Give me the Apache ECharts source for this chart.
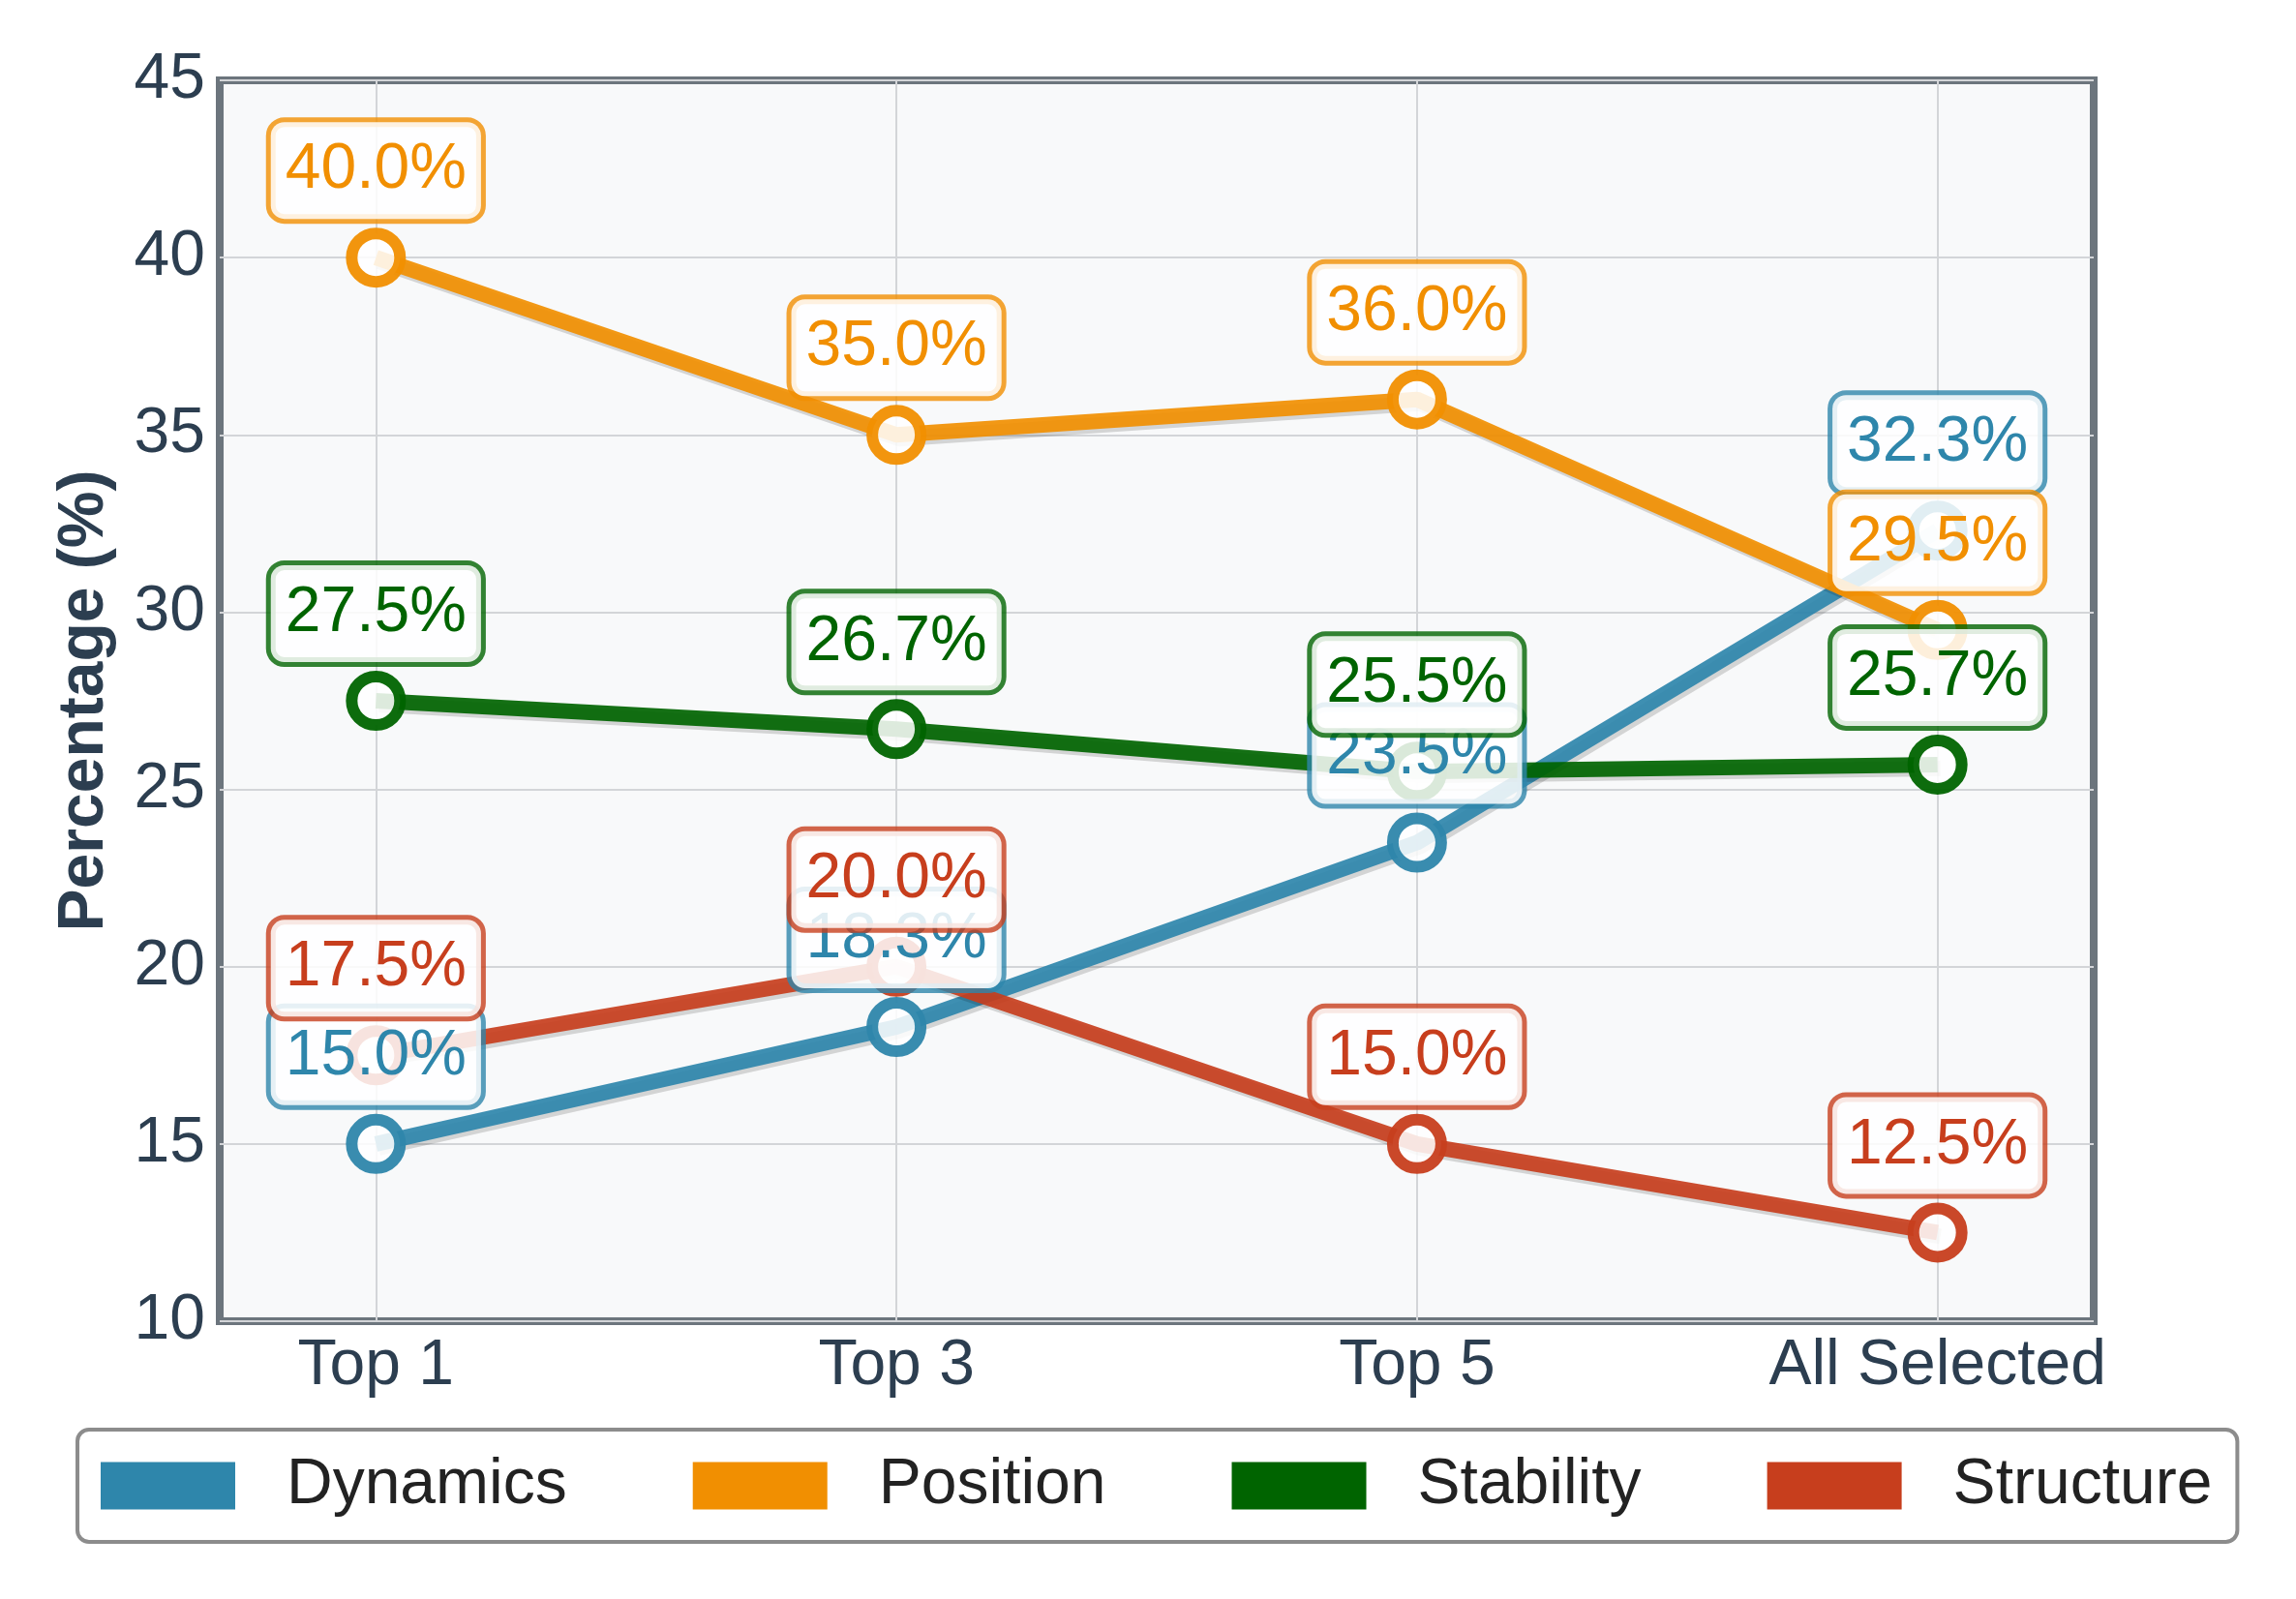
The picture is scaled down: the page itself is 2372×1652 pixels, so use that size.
<!DOCTYPE html>
<html>
<head>
<meta charset="utf-8">
<script src="https://cdn.jsdelivr.net/npm/echarts@6/dist/echarts.min.js"></script>
<style>html,body{margin:0;padding:0;background:#fff;}#chart{width:2372px;height:1652px;}</style>
</head>
<body>
<div id="chart"></div>
<script>
const categories = ['Top 1', 'Top 3', 'Top 5', 'All Selected'];
const dynamics = [15.0, 18.3, 23.5, 32.3];
const position = [40.0, 35.0, 36.0, 29.5];
const stability = [27.5, 26.7, 25.5, 25.7];
const structure = [17.5, 20.0, 15.0, 12.5];
const seriesNames = ['Dynamics', 'Position', 'Stability', 'Structure'];
const seriesColors = ['#2E86AB', '#F18F01', '#006400', '#C73E1D'];
const seriesBorder = ['rgba(46,134,171,0.8)', 'rgba(241,143,1,0.8)', 'rgba(0,100,0,0.8)', 'rgba(199,62,29,0.8)'];
const yTicks = { min: 10, max: 45, interval: 5 };

const allValues = [dynamics, position, stability, structure];
const FONT = 'Liberation Sans, Arial, sans-serif';

const lineSeries = allValues.map((vals, k) => ({
  name: seriesNames[k],
  type: 'line',
  z: 2,
  color: seriesColors[k],
  data: vals.map((v, i) => [i, v]),
  symbol: 'circle',
  symbolSize: 50,
  lineStyle: { width: 16, color: seriesColors[k], opacity: 0.92,
    shadowColor: 'rgba(0,0,0,0.16)', shadowOffsetX: 3, shadowOffsetY: 4, shadowBlur: 0 },
  itemStyle: { color: 'rgba(255,255,255,0.9)', borderColor: seriesColors[k], borderWidth: 12, opacity: 0.95 },
  emphasis: { disabled: true },
  animation: false
}));

const labelSeries = allValues.map((vals, k) => ({
  name: seriesNames[k] + ' label',
  type: 'scatter',
  z: 5 + k,
  data: vals.map((v, i) => [i, v]),
  symbolSize: 0,
  itemStyle: { color: 'rgba(0,0,0,0)', opacity: 1 },
  label: {
    show: true,
    position: 'top',
    distance: 40,
    opacity: 1,
    formatter: p => p.value[1].toFixed(1) + '%',
    color: seriesColors[k],
    fontFamily: FONT,
    fontSize: 66,
    lineHeight: 70,
    backgroundColor: 'rgba(255,255,255,0.85)',
    borderColor: seriesBorder[k],
    borderWidth: 5,
    borderRadius: 14,
    padding: [15, 15, 15, 15]
  },
  emphasis: { disabled: true },
  animation: false
}));

const chart = echarts.init(document.getElementById('chart'));
chart.setOption({
  backgroundColor: '#ffffff',
  animation: false,
  grid: {
    left: 227, right: 209, top: 83, bottom: 287,
    show: true, backgroundColor: '#f8f9fa', borderColor: '#6c757d', borderWidth: 8,
    containLabel: false
  },
  xAxis: {
    type: 'value', min: -0.3, max: 3.3,
    axisLine: { show: false },
    axisTick: { show: false, customValues: [0, 1, 2, 3] },
    splitLine: { show: true, lineStyle: { color: '#d3d5d8', width: 2 } },
    axisLabel: {
      customValues: [0, 1, 2, 3],
      formatter: v => categories[Math.round(v)] || '',
      color: '#2c3e50', fontFamily: FONT, fontSize: 66, margin: 14
    }
  },
  yAxis: {
    type: 'value', min: yTicks.min, max: yTicks.max, interval: yTicks.interval,
    name: 'Percentage (%)', nameLocation: 'middle', nameGap: 106,
    nameTextStyle: { color: '#2c3e50', fontFamily: FONT, fontSize: 66, fontWeight: 'bold' },
    axisLine: { show: false },
    axisTick: { show: false },
    splitLine: { show: true, lineStyle: { color: '#d3d5d8', width: 2 } },
    axisLabel: { color: '#2c3e50', fontFamily: FONT, fontSize: 66, margin: 15 }
  },
  legend: {
    data: seriesNames.map((n, k) => ({ name: n, itemStyle: { color: seriesColors[k], borderWidth: 0, opacity: 1 } })),
    left: 80, top: 1477,
    orient: 'horizontal',
    icon: 'rect',
    itemWidth: 139, itemHeight: 49, itemGap: 130,
    padding: [18, 26, 18, 24],
    borderColor: '#8c8c8c', borderWidth: 4, borderRadius: 12,
    backgroundColor: '#ffffff',
    textStyle: { color: '#222222', fontFamily: FONT, fontSize: 66, lineHeight: 80, padding: [0, 0, 0, 48] }
  },
  series: [...lineSeries, ...labelSeries]
});
</script>
</body>
</html>
